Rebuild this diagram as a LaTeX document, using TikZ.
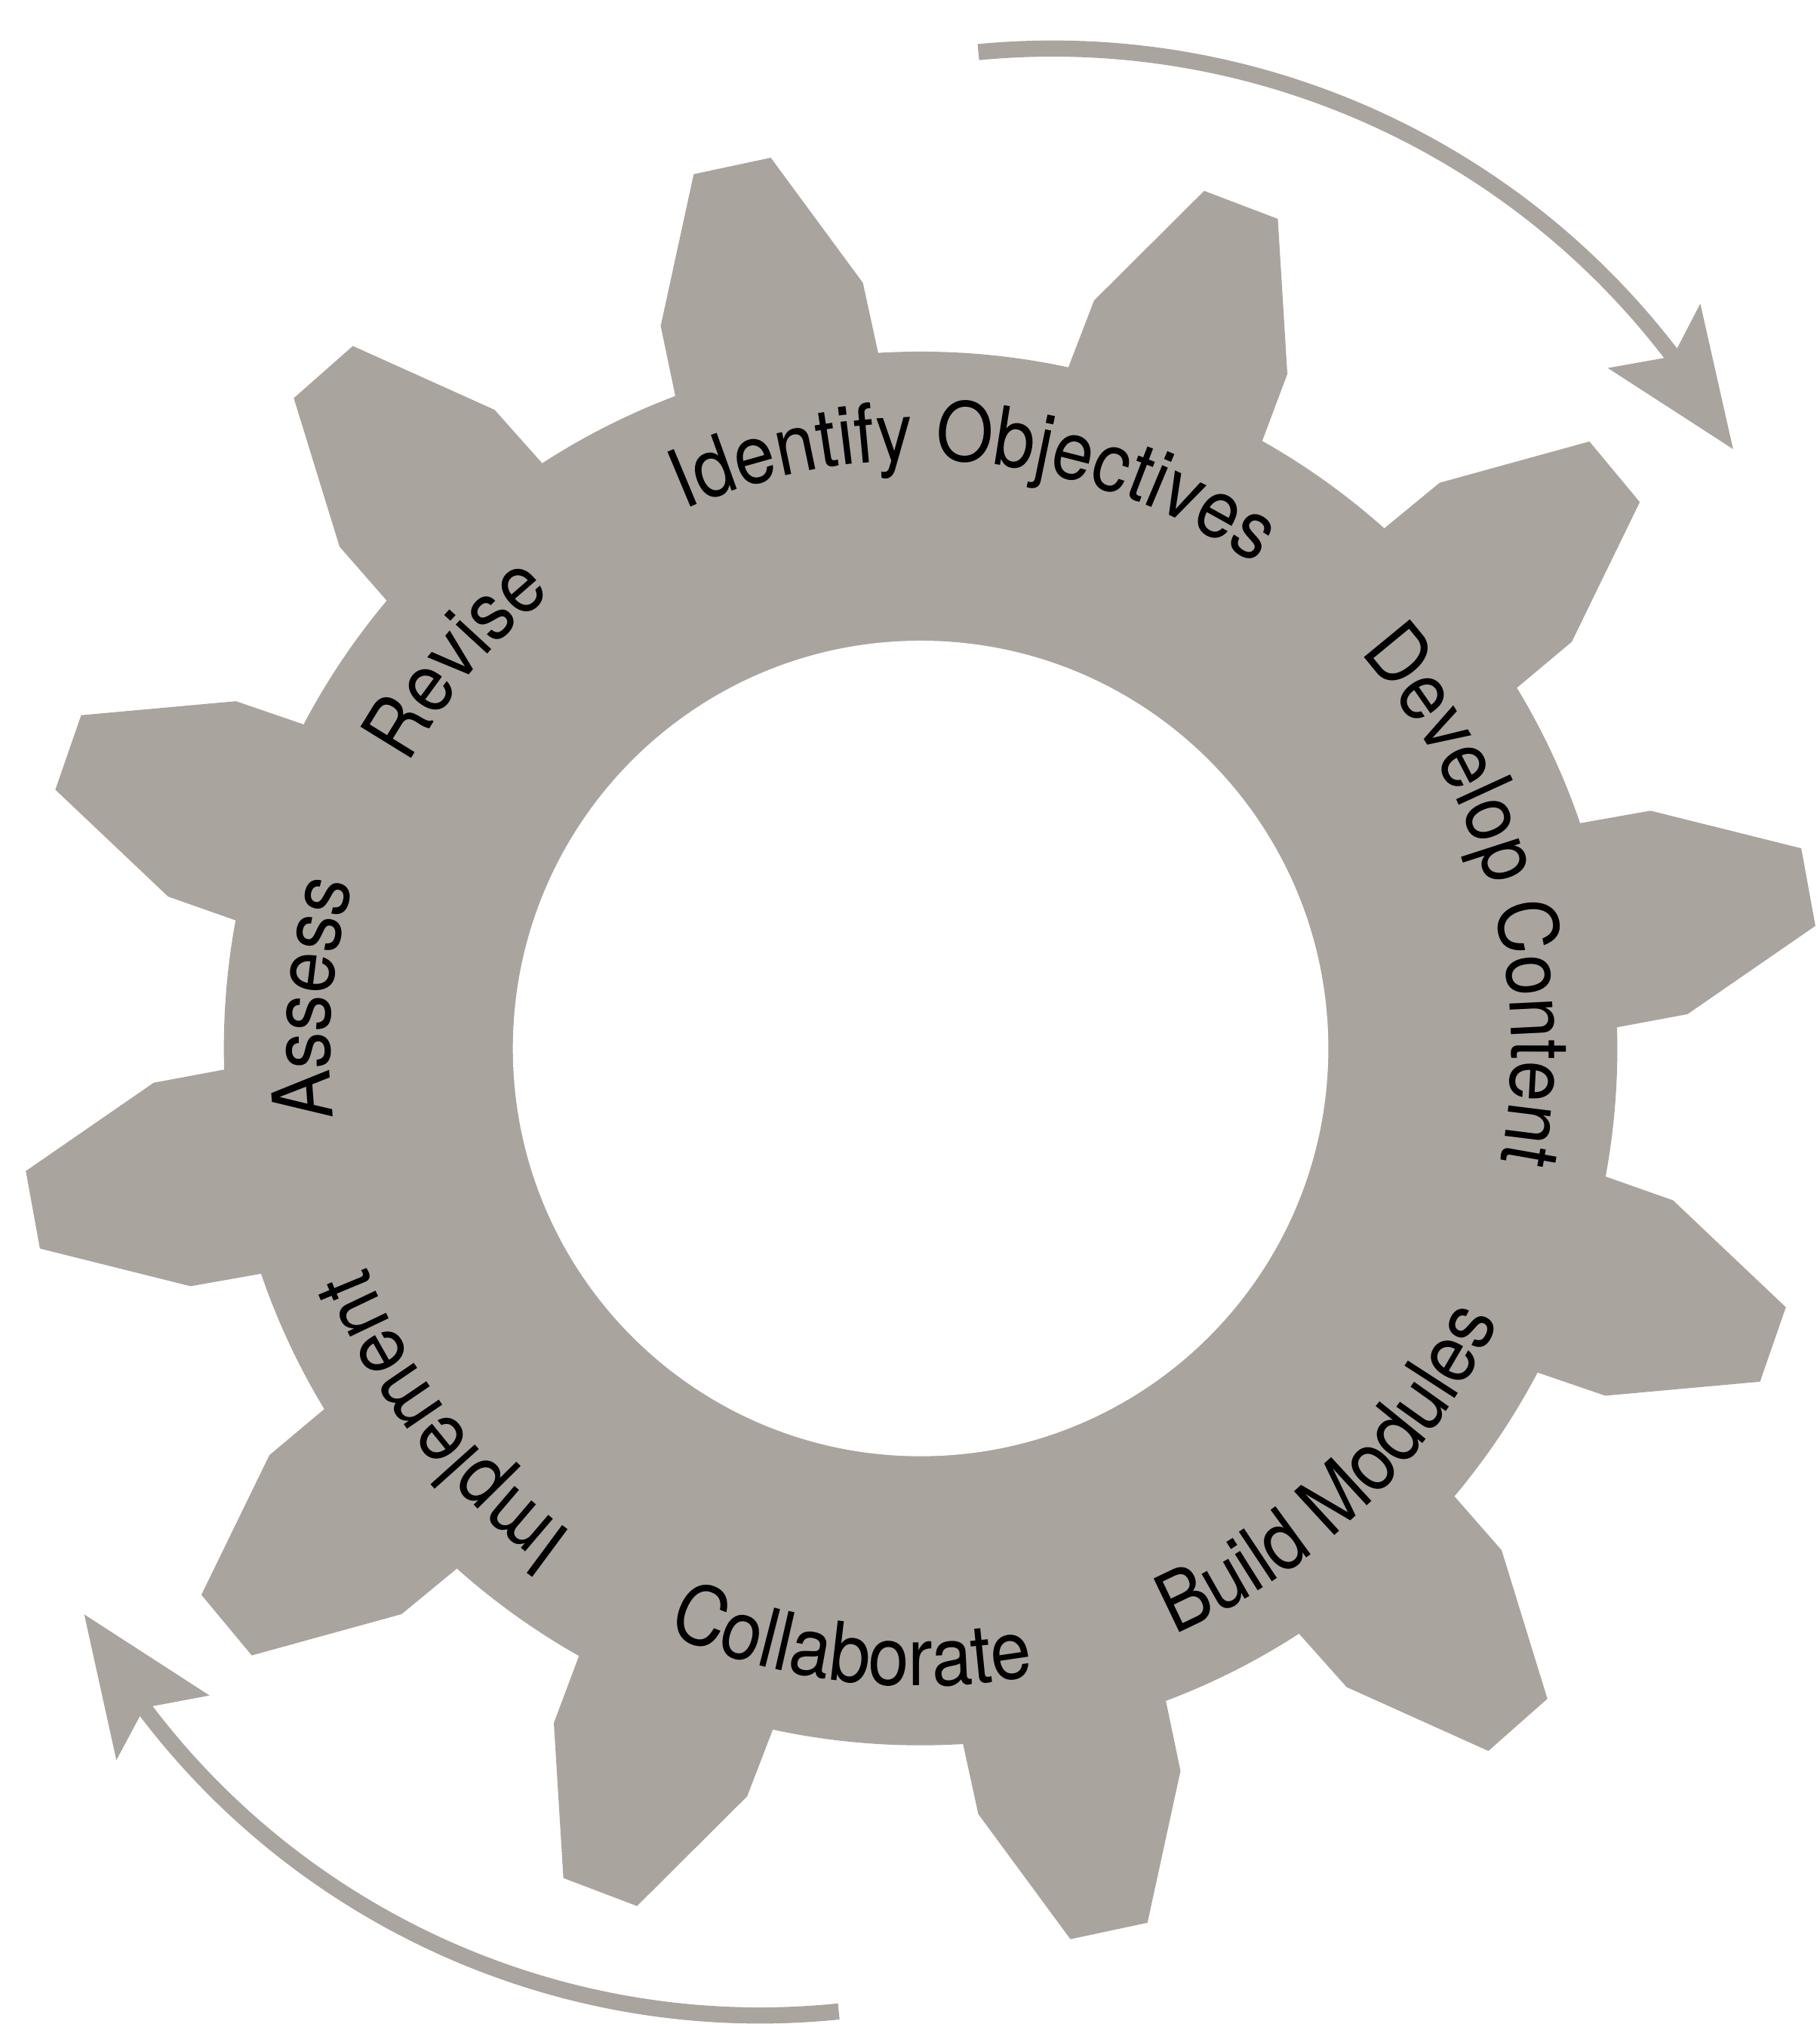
\documentclass[tikz,border=0pt]{standalone}
\usepackage{fontspec}
\newfontfamily\gearfont[FakeStretch=0.9]{TeX Gyre Heros}
\usetikzlibrary{decorations.text,calc}
\definecolor{gearcol}{RGB}{170,164,159}
\newcommand\lblfont{\gearfont\fontsize{18}{21}\selectfont}
\begin{document}
\begin{tikzpicture}[
  gearpart/.style={fill=gearcol, draw=none},
  cyclearrow/.style={draw=gearcol, line width=0.125cm},
  arrowheadfill/.style={fill=gearcol, draw=none},
  outlabel/.style={decorate, decoration={text along path, text={|\lblfont|#1}, text align=center}},
]
\useasboundingbox (0,0) rectangle (14.10,-15.685);
\coordinate (C) at (7.135,-8.125);
\begin{scope}[shift={(C)}]
  \fill[gearpart] (0,0) circle[radius=5.40];
  \foreach \t in {131.45,102.05,69.2,39.72,10.3,-19.15,-48.55,-77.95,-110.8,-140.28,-169.7,-199.15}
    \fill[gearpart] ({\t+8.56}:5.40) -- ({\t+7.74}:5.95) -- ({\t+2.5}:7.00) -- ({\t-2.5}:7.00) -- ({\t-7.74}:5.95) -- ({\t-8.56}:5.40) -- cycle;
  \fill[white] (0,0) circle[radius=3.16];
  % labels, clockwise with tops outward
  \path[outlabel={Identify Objectives}] (134.5:4.56) arc[start angle=134.5, end angle=34.5, radius=4.56];
  \path[outlabel={Develop Content}] (65.5:4.58) arc[start angle=65.5, end angle=-34.5, radius=4.58];
  \path[outlabel={Revise}] (180:4.54) arc[start angle=180, end angle=100, radius=4.54];
  \path[outlabel={Assess}] (215.3:4.58) arc[start angle=215.3, end angle=135.3, radius=4.58];
  \path[outlabel={Implement}] (258:4.62) arc[start angle=258, end angle=178, radius=4.62];
  % labels, counterclockwise with tops inward
  \path[outlabel={Build Modules}] (-95.9:4.95) arc[start angle=-95.9, end angle=4.1, radius=4.95];
  \path[outlabel={Collaborate}] (-146.6:4.94) arc[start angle=-146.6, end angle=-46.6, radius=4.94];
\end{scope}
% upper arrow
\coordinate (TopC) at (8.16,-6.41);
\coordinate (TopStart) at ($(TopC)+(95.49:6.034)$);
\coordinate (TopNotch) at (12.966,-2.762);
\coordinate (TopTip) at (13.432,-3.480);
\coordinate (TopBarbL) at (12.461,-2.852);
\coordinate (TopBarbR) at (13.178,-2.353);
\draw[cyclearrow] (TopStart) arc[start angle=95.49, end angle=37.20, radius=6.034];
\fill[arrowheadfill] (TopBarbL) -- (TopNotch) -- (TopBarbR) -- (TopTip) -- cycle;
% lower arrow
\coordinate (BotC) at (5.89,-9.644);
\coordinate (BotStart) at ($(BotC)+(275.87:5.975)$);
\coordinate (BotNotch) at (1.119,-13.234);
\coordinate (BotTip) at (0.653,-12.511);
\coordinate (BotBarbR) at (1.624,-13.139);
\coordinate (BotBarbL) at (0.902,-13.640);
\draw[cyclearrow] (BotStart) arc[start angle=275.87, end angle=216.96, radius=5.975];
\fill[arrowheadfill] (BotBarbR) -- (BotNotch) -- (BotBarbL) -- (BotTip) -- cycle;
\end{tikzpicture}
\end{document}
